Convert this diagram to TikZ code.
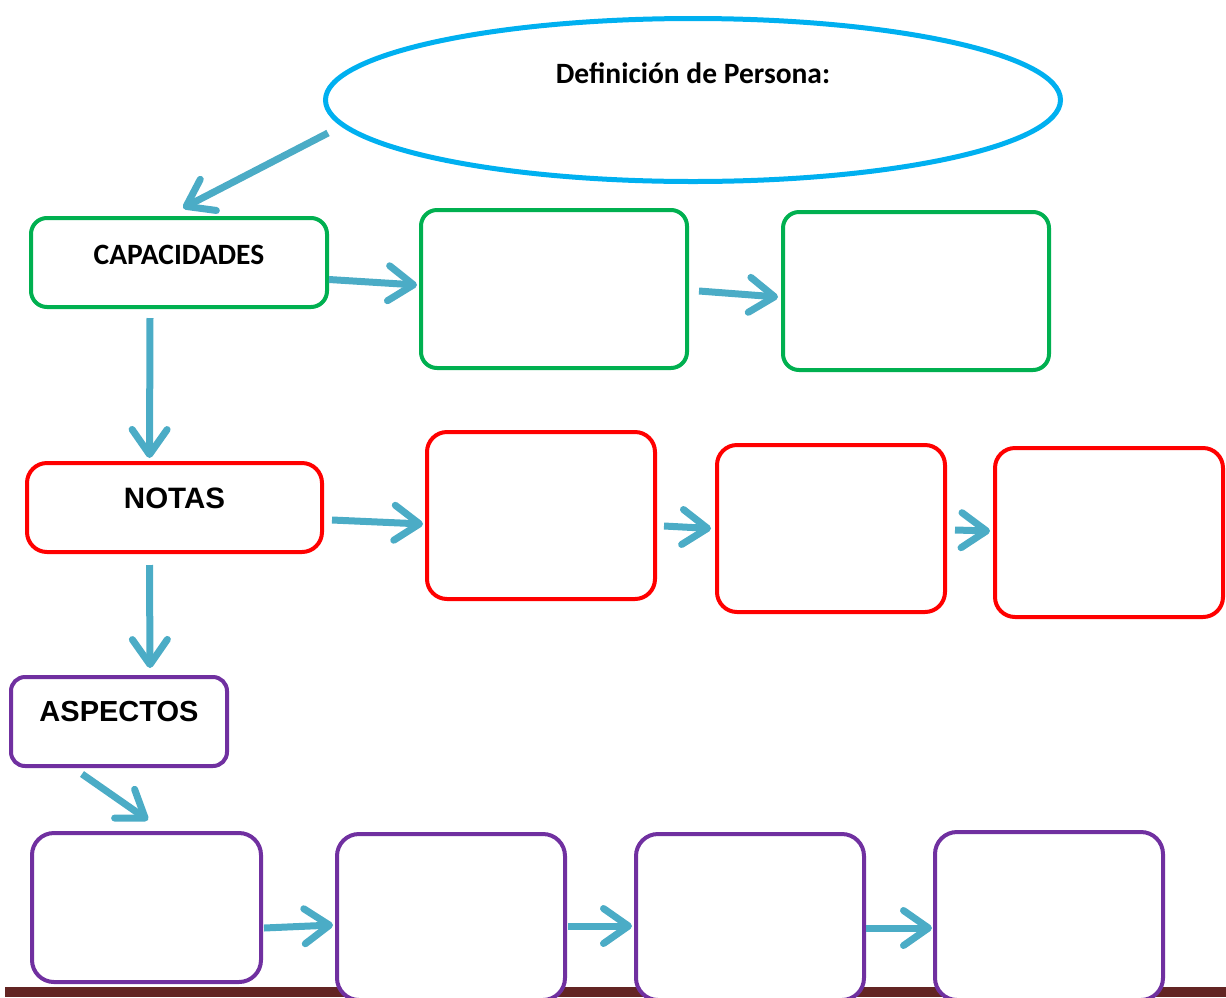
\documentclass[tikz,border=0pt]{standalone}
\usepackage{fontspec}
\setmainfont{Carlito}
\newfontfamily\arialfont{Liberation Sans}
\usetikzlibrary{arrows.meta,shapes.geometric}
\definecolor{cielo}{HTML}{00B0F0}
\definecolor{verde}{HTML}{00B050}
\definecolor{rojo}{HTML}{FF0000}
\definecolor{morado}{HTML}{7030A0}
\definecolor{flecha}{HTML}{4BACC6}
\definecolor{cafe}{HTML}{632523}
\begin{document}
\begin{tikzpicture}[x=1pt,y=-1pt]

      \clip (0,0) rectangle (1226,997);
      \useasboundingbox (0,0) rectangle (1226,997);
      \fill[cafe] (5,987) rectangle (1226,997);

      \node[ellipse,draw=cielo,line width=5pt,minimum width=735pt,minimum height=163pt,
        label={[font=\bfseries\fontsize{29.5}{34}\selectfont,yshift=27pt]center:Definición de Persona:}]
        (def) at (693,100) {};

      \begin{scope}[every node/.style={draw=verde,fill=white,line width=4pt,rounded corners=16pt}]
        \node[minimum width=296pt,minimum height=89pt,
          label={[font=\bfseries\fontsize{29.5}{34}\selectfont,yshift=8pt]center:CAPACIDADES}]
          (cap) at (179,262.5) {};
        \node[minimum width=266pt,minimum height=158pt] (c1) at (554,289) {};
        \node[minimum width=266pt,minimum height=158pt] (c2) at (916,291) {};
      \end{scope}

      \begin{scope}[every node/.style={draw=rojo,fill=white,line width=4pt,rounded corners=20pt}]
        \node[minimum width=295pt,minimum height=89pt,
          label={[font=\arialfont\bfseries\fontsize{29.5}{34}\selectfont,yshift=9.5pt]center:NOTAS}]
          (notas) at (174.5,507.5) {};
        \node[minimum width=228pt,minimum height=167pt] (r1) at (541,515.5) {};
        \node[minimum width=228pt,minimum height=167pt] (r2) at (831,528.5) {};
        \node[minimum width=228pt,minimum height=169pt] (r3) at (1109,532.5) {};
      \end{scope}

      \begin{scope}[every node/.style={draw=morado,fill=white,line width=4pt,rounded corners=22pt}]
        \node[minimum width=216pt,minimum height=89pt,rounded corners=14pt,
          label={[font=\arialfont\bfseries\fontsize{29}{34}\selectfont,yshift=10pt]center:ASPECTOS}]
          (asp) at (119,721.5) {};
        \node[minimum width=229pt,minimum height=149pt] (p1) at (146.5,907.5) {};
        \node[minimum width=228pt,minimum height=166pt] (p2) at (451,917) {};
        \node[minimum width=228pt,minimum height=166pt] (p3) at (750,917) {};
        \node[minimum width=228pt,minimum height=168pt] (p4) at (1049,916) {};
      \end{scope}

      \begin{scope}[every edge/.style={draw=flecha,line width=7pt,
          -{Straight Barb[length=25pt,width=35pt,round]},
          preaction={draw=black!35,opacity=.35,transform canvas={shift={(2pt,-2.5pt)}}}}]
        \path ([xshift=5pt,yshift=-33pt]def.west) edge ([xshift=4pt,yshift=8pt]cap.north);
        \path ([yshift=-17pt]cap.east) edge ([xshift=-2pt,yshift=4pt]c1.west);
        \path ([xshift=10pt,yshift=-2pt]c1.east) edge ([xshift=-3pt,yshift=-6pt]c2.west);
        \path ([xshift=-29pt,yshift=-9pt]cap.south) edge ([xshift=-25pt,yshift=3pt]notas.north);
        \path ([xshift=8pt,yshift=-12.5pt]notas.east) edge ([xshift=-2pt,yshift=-8.5pt]r1.west);
        \path ([xshift=7pt,yshift=-10.5pt]r1.east) edge ([xshift=-4pt]r2.west);
        \path ([xshift=8pt,yshift=-1.5pt]r2.east) edge ([xshift=-3pt,yshift=1.5pt]r3.west);
        \path ([xshift=-25pt,yshift=-11pt]notas.south) edge ([xshift=31pt,yshift=7pt]asp.north);
        \path ([xshift=-37pt,yshift=-6pt]asp.south) edge ([xshift=1.5pt,yshift=11pt]p1.north);
        \path ([xshift=1pt,yshift=-20.5pt]p1.east) edge ([xshift=-2pt,yshift=-8pt]p2.west);
        \path ([xshift=1pt,yshift=-9pt]p2.east) edge ([xshift=-2pt,yshift=-9pt]p3.west);
        \path ([yshift=-11pt]p3.east) edge ([xshift=-1pt,yshift=-12pt]p4.west);
      \end{scope}

    \end{tikzpicture}
\end{document}
